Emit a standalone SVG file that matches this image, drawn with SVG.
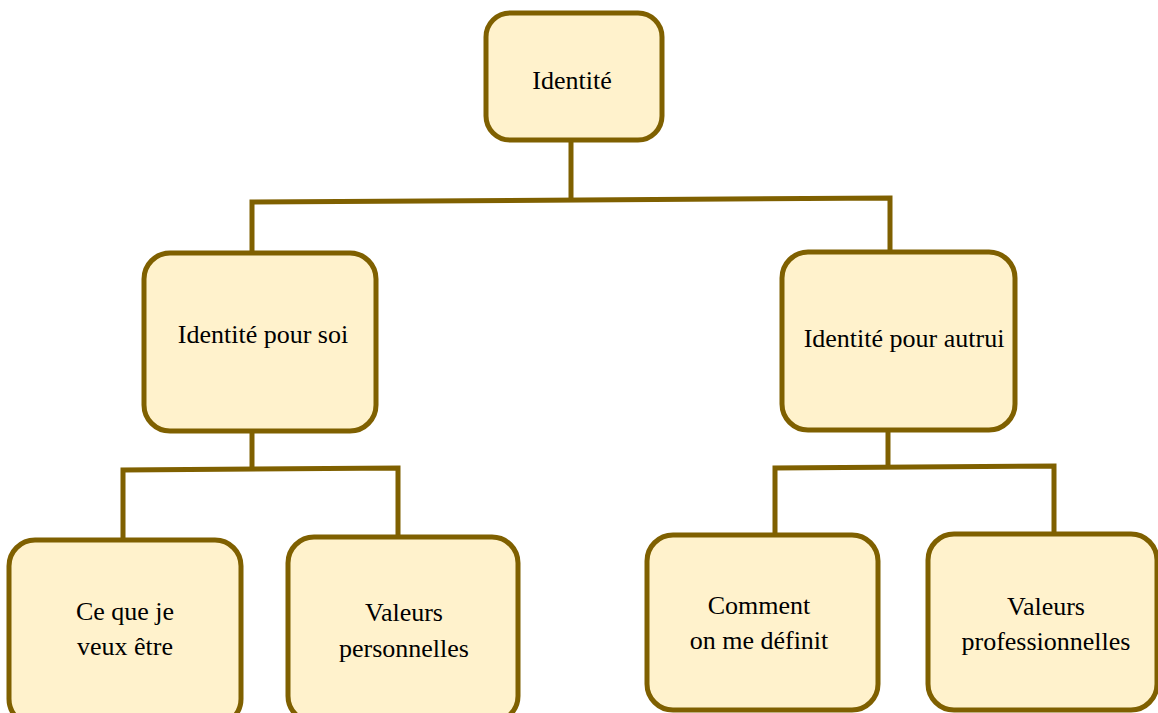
<svg xmlns="http://www.w3.org/2000/svg" width="1158" height="713" viewBox="0 0 1158 713">
<style>
.box{fill:#fff2cc;stroke:#7f6000;stroke-width:5}
.conn{fill:none;stroke:#7f6000;stroke-width:5;stroke-linejoin:miter}
.t{font-family:"Liberation Serif","Times New Roman",serif;font-size:26px;fill:#000;text-anchor:middle}
</style>
<rect width="1158" height="713" fill="#ffffff"/>
<g id="connectors">
<path class="conn" d="M571,141 V200"/>
<path class="conn" d="M252,253 V202 L890,198 V252"/>
<path class="conn" d="M252,432 V469"/>
<path class="conn" d="M123,538 V470 L398,468 V536"/>
<path class="conn" d="M888,432 V467"/>
<path class="conn" d="M775,533 V468 L1054,466 V533"/>
</g>
<g id="n-identite">
<rect class="box" x="486" y="13" width="176" height="127" rx="24"/>
<text class="t" x="572" y="89">Identité</text>
</g>
<g id="n-pour-soi">
<rect class="box" x="144" y="253" width="232" height="178" rx="26"/>
<text class="t" x="263" y="343">Identité pour soi</text>
</g>
<g id="n-pour-autrui">
<rect class="box" x="782" y="252" width="233" height="178" rx="26"/>
<text class="t" x="904" y="347">Identité pour autrui</text>
</g>
<g id="n-ce-que-je">
<rect class="box" x="9" y="540" width="232" height="185" rx="26"/>
<text class="t" x="125" y="620">Ce que je</text>
<text class="t" x="125" y="655">veux être</text>
</g>
<g id="n-valeurs-perso">
<rect class="box" x="288" y="537" width="230" height="185" rx="26"/>
<text class="t" x="404" y="621">Valeurs</text>
<text class="t" x="404" y="657">personnelles</text>
</g>
<g id="n-comment">
<rect class="box" x="647" y="535" width="231" height="175" rx="26"/>
<text class="t" x="759" y="614">Comment</text>
<text class="t" x="759" y="649">on me définit</text>
</g>
<g id="n-valeurs-pro">
<rect class="box" x="928" y="534" width="229" height="176" rx="26"/>
<text class="t" x="1046" y="615">Valeurs</text>
<text class="t" x="1046" y="650">professionnelles</text>
</g>
</svg>
